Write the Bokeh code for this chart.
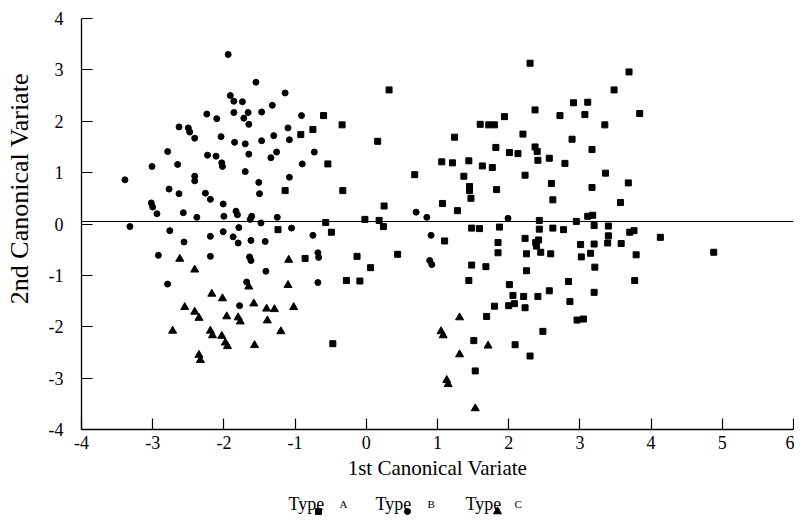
import math
from bokeh.plotting import figure
from bokeh.models import Range1d, FixedTicker, Span
from bokeh.layouts import column, row
from bokeh.embed import file_html
from bokeh.resources import INLINE
from bokeh.core.properties import value

# ---------------- data ----------------
# Type A (squares)
typeA_x = [-0.60, -0.75, -0.92, -0.34, -0.54, -1.14, -0.33, -1.24, -0.57, -0.49,
           -0.86, -0.28, -0.47, 0.32, 0.16, 2.30, 2.37, 1.94, 1.60, 1.72,
           1.80, 1.24, 2.20, 2.72, 2.91, 3.11, 3.07, 3.35, 3.48, 3.69,
           2.89, 3.17, 1.82, 2.01, 2.13, 2.37, 2.40, 2.41, 2.57, 2.79,
           1.06, 1.21, 1.44, 1.63, 1.77, 2.23, 3.36, 0.68, 1.37, 1.45,
           1.45, 1.83, 2.60, 3.17, 3.68, 1.47, 2.62, 3.57, 0.25, 1.07,
           1.28, 0.18, 2.43, 2.95, 3.11, 3.18, 0.24, 1.48, 1.59, 1.87,
           2.43, 2.62, 2.77, 3.20, 3.40, 3.70, 1.10, 1.85, 2.23, 2.38,
           2.42, 3.01, 3.20, 3.40, 3.39, 3.58, 0.44, 1.48, 1.68, 1.85,
           2.25, 2.39, 2.45, 2.59, 2.25, 3.02, 3.15, 3.21, 1.44, 2.01,
           2.06, 2.08, 2.21, 2.41, 2.57, 2.84, 3.20, 1.80, 2.00, 2.23,
           2.86, 1.69, 2.96, 3.05, 2.48, 1.51, 2.09, 2.30, 1.53, 3.76,
           4.13, 3.79, 4.88, 3.77, -0.02, -0.13, 0.06, -0.09, 3.84]
typeA_y = [2.11, 1.84, 1.74, 1.93, 1.17, 0.65, 0.65, -0.11, 0.03, -0.16,
           -0.67, -1.10, -2.33, 2.61, 1.61, 3.13, 2.22, 2.09, 1.94, 1.93,
           1.93, 1.69, 1.75, 2.11, 2.36, 2.37, 2.13, 1.93, 2.61, 2.96,
           1.65, 1.45, 1.49, 1.39, 1.37, 1.50, 1.41, 1.24, 1.28, 1.18,
           1.21, 1.19, 1.23, 1.13, 1.10, 0.95, 0.99, 0.96, 0.93, 0.73,
           0.65, 0.67, 0.79, 0.71, 0.80, 0.50, 0.47, 0.42, 0.35, 0.40,
           0.26, 0.07, 0.07, 0.05, 0.15, 0.17, -0.05, -0.08, -0.09, -0.06,
           -0.10, -0.08, -0.11, -0.03, -0.04, -0.16, -0.33, -0.36, -0.28, -0.36,
           -0.31, -0.40, -0.39, -0.23, -0.37, -0.38, -0.59, -0.80, -0.83, -0.56,
           -0.58, -0.43, -0.55, -0.58, -0.91, -0.64, -0.57, -0.84, -1.10, -1.18,
           -1.39, -1.55, -1.41, -1.41, -1.30, -1.12, -1.33, -1.60, -1.59, -1.63,
           -1.51, -1.80, -1.87, -1.85, -2.09, -2.27, -2.35, -2.57, -2.86, -0.13,
           -0.26, -0.60, -0.55, -1.10, 0.09, -0.63, -0.85, -1.11, 2.15]

# Type B (circles)
typeB_x = [-1.94, -1.55, -1.14, -1.91, -1.86, -1.74, -1.32, -2.24, -2.10, -1.86,
           -1.66, -1.72, -1.47, -1.65, -0.91, -2.63, -2.50, -2.48, -2.41, -2.04,
           -1.85, -1.70, -1.47, -1.30, -1.10, -1.08, -2.79, -3.01, -2.65, -2.23,
           -2.11, -2.03, -2.02, -1.65, -1.26, -1.34, -0.73, -0.90, -3.39, -2.41,
           -2.41, -1.70, -1.51, -1.08, -2.77, -2.63, -2.26, -2.19, -1.50, -3.02,
           -3.00, -2.94, -2.57, -2.38, -2.01, -2.00, -1.83, -1.81, -1.61, -1.63,
           -1.25, -1.48, -3.32, -2.76, -2.56, -2.19, -2.01, -1.87, -1.80, -1.79,
           -1.62, -1.42, -1.05, -0.75, -2.92, -2.19, -1.64, -1.62, -1.41, -2.79,
           -0.68, -1.78, -0.68, -0.67, -1.68, 0.70, 0.85, 1.99, 0.91, 0.89, 0.92]
typeB_y = [3.30, 2.76, 2.55, 2.50, 2.39, 2.38, 2.31, 2.14, 2.05, 2.17,
           2.17, 2.06, 2.18, 1.94, 2.11, 1.89, 1.87, 1.79, 1.67, 1.70,
           1.59, 1.56, 1.62, 1.72, 1.87, 1.64, 1.41, 1.12, 1.16, 1.34,
           1.32, 1.19, 1.12, 1.36, 1.40, 1.29, 1.40, 1.17, 0.86, 0.93,
           0.84, 1.02, 0.81, 0.91, 0.68, 0.59, 0.60, 0.48, 0.59, 0.41,
           0.33, 0.20, 0.22, 0.13, 0.39, 0.15, 0.25, 0.18, 0.15, 0.09,
           0.13, 0.02, -0.05, -0.13, -0.35, -0.24, -0.15, -0.25, -0.37, -0.07,
           -0.32, -0.34, -0.08, -0.22, -0.61, -0.63, -0.64, -0.71, -0.92, -1.17,
           -1.14, -1.59, -0.56, -0.65, -1.13, 0.23, 0.13, 0.11, -0.22, -0.71, -0.79]

# Type C (triangles)
typeC_x = [-2.62, -2.41, -1.09, -1.10, -2.17, -2.02, -2.55, -2.41, -2.35, -1.96,
           -1.80, -1.77, -1.58, -1.40, -1.29, -1.02, -1.39, -1.20, -2.72, -2.19,
           -2.16, -2.03, -1.98, -1.95, -1.57, -2.35, -2.33, -1.65, 1.31, 1.05,
           1.08, 1.71, 1.31, 1.13, 1.15, 1.53]
typeC_y = [-0.68, -0.89, -0.70, -1.19, -1.36, -1.45, -1.62, -1.71, -1.83, -1.80,
           -1.82, -1.90, -1.55, -1.65, -1.66, -1.62, -1.88, -2.09, -2.08, -2.08,
           -2.17, -2.18, -2.31, -2.38, -2.36, -2.55, -2.65, -1.22, -1.82, -2.09,
           -2.17, -2.37, -2.54, -3.04, -3.12, -3.59]

x_ticks = [-4, -3, -2, -1, 0, 1, 2, 3, 4, 5, 6]
y_ticks = [-4, -3, -2, -1, 0, 1, 2, 3, 4]
x_label = "1st Canonical Variate"
y_label = "2nd Canonical Variate"
zero_level = 0.05

legend_words = ["Type", "Type", "Type"]
legend_letters = ["A", "B", "C"]
legend_markers = ["square", "circle", "triangle"]

FONT = "Liberation Serif"

# ---------------- layout sizes ----------------
LAB_W = 34          # strip for the y-axis title
TOP_H = 488         # height of the plot row
LEG_H = 27          # legend strip
TOTAL_W = 794

# ---------------- main plot ----------------
p = figure(width=TOTAL_W - LAB_W, height=TOP_H, x_range=Range1d(-4, 6), y_range=Range1d(-4, 4),
           output_backend="svg", toolbar_location=None, title=None,
           min_border_left=47, min_border_right=1, min_border_top=18,
           min_border_bottom=TOP_H - 429, x_axis_label=x_label)
p.outline_line_color = None
p.xgrid.visible = False
p.ygrid.visible = False

for ax, ticks in ((p.xaxis, x_ticks), (p.yaxis, y_ticks)):
    ax.ticker = FixedTicker(ticks=ticks)
    ax.major_label_overrides = {t: str(t) for t in ticks}
    ax.minor_tick_line_color = None
    ax.major_tick_in = 11
    ax.major_tick_out = 0
    ax.major_tick_line_color = "black"
    ax.major_tick_line_width = 1.2
    ax.axis_line_color = "black"
    ax.axis_line_width = 1.3
    ax.major_label_text_font = FONT
    ax.major_label_text_font_size = "18px"
    ax.major_label_text_color = "black"
    ax.axis_label_text_font = FONT
    ax.axis_label_text_font_style = "normal"
    ax.axis_label_text_color = "black"

p.xaxis.major_label_standoff = 6
p.xaxis.axis_label_standoff = 4
p.xaxis.axis_label_text_font_size = "21px"
p.yaxis.major_label_standoff = 18

p.add_layout(Span(location=zero_level, dimension="width", line_color="black", line_width=1.1))

p.scatter(typeA_x, typeA_y, marker="square", size=6, color="black")
p.scatter(typeB_x, typeB_y, marker="circle", size=6, color="black")
p.scatter(typeC_x, typeC_y, marker="triangle", size=8, color="black")

# ---------------- y-axis title strip ----------------
ylab = figure(width=LAB_W, height=TOP_H, x_range=Range1d(0, LAB_W), y_range=Range1d(0, TOP_H),
              output_backend="svg", toolbar_location=None, title=None, min_border=0,
              x_axis_location=None, y_axis_location=None)
ylab.outline_line_color = None
ylab.xgrid.visible = False
ylab.ygrid.visible = False
ylab.text(x=[19], y=[TOP_H - 202], text=[y_label], angle=math.pi / 2,
          text_font=value(FONT), text_font_size="26px", text_align="center",
          text_baseline="middle", text_color="black")

# ---------------- legend strip ----------------
leg = figure(width=TOTAL_W, height=LEG_H, x_range=Range1d(0, TOTAL_W), y_range=Range1d(0, LEG_H),
             output_backend="svg", toolbar_location=None, title=None, min_border=0,
             x_axis_location=None, y_axis_location=None)
leg.outline_line_color = None
leg.xgrid.visible = False
leg.ygrid.visible = False

word_x = [288, 375, 465]
letter_x = [339, 427, 514]
marker_x = [318, 407, 497]
leg.text(x=word_x, y=[12] * 3, text=legend_words, text_font=value(FONT),
         text_font_size="18px", text_align="left", text_baseline="alphabetic",
         text_color="black")
leg.text(x=letter_x, y=[12] * 3, text=legend_letters, text_font=value(FONT),
         text_font_size="11px", text_align="left", text_baseline="alphabetic",
         text_color="black")
leg.scatter(marker_x, [4] * 3, marker=legend_markers, size=[6, 6, 8], color="black")

layout = column(row(ylab, p), leg)
open("out.html", "w").write(file_html(layout, INLINE))
